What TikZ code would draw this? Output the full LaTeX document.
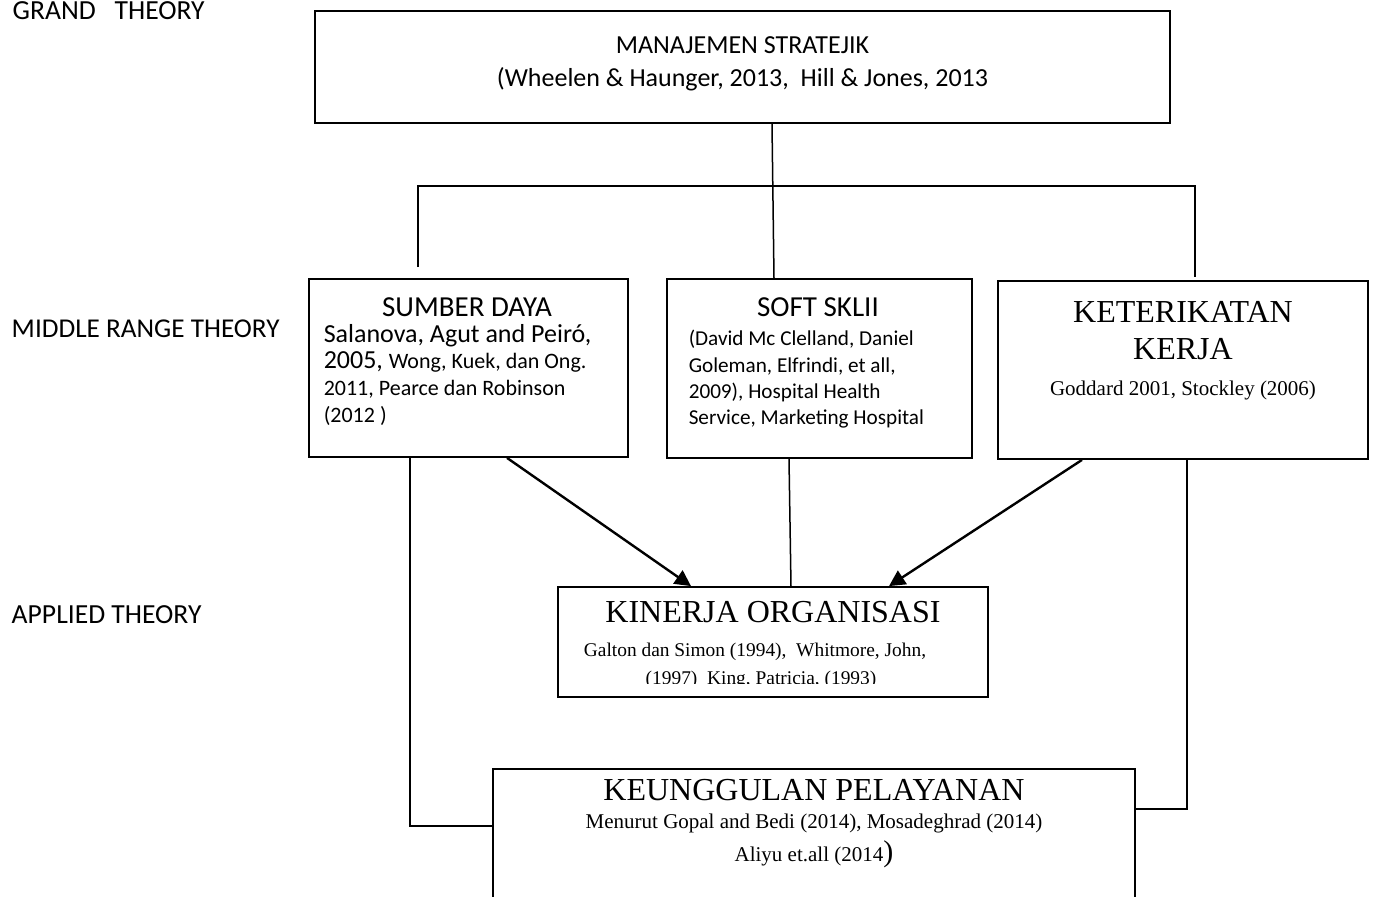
\documentclass[tikz,border=0pt]{standalone}
\usepackage{fontspec}
\setmainfont{Carlito}
\newfontfamily\timesfont{Liberation Serif}
\usetikzlibrary{positioning,arrows.meta}
\newcommand{\setfs}[1]{\fontsize{#1}{#1}\selectfont}

\begin{document}
\begin{tikzpicture}[x=0.5pt, y=-0.5pt, line width=0.75pt,
    box/.style={draw, line width=0.9pt, inner sep=0pt},
    txt/.style={inner sep=0pt, anchor=base},
    txtl/.style={inner sep=0pt, anchor=base west},
    arr/.style={line width=1.2pt, -{Triangle[length=8pt,width=8pt]}}]
  \clip (0,0) rectangle (1373,897);

  % theory levels
  \node[txtl] (grand) at (12,20) {\setfs{13.8}GRAND\ \ \ THEORY};
  \node[txtl] (middle) at (11,338) {\setfs{13.6}MIDDLE RANGE THEORY};
  \node[txtl] (applied) at (11,624) {\setfs{13.8}APPLIED THEORY};

  % boxes
  \node[box, minimum width=427.5pt, minimum height=56pt] (mj) at (742.5,67) {};
  \node[box, minimum width=159.5pt, minimum height=89pt] (sumber) at (468.5,368) {};
  \node[box, minimum width=152.5pt, minimum height=89.5pt] (soft) at (819.5,368.5) {};
  \node[box, minimum width=185pt, minimum height=89pt] (ket) at (1183,370) {};
  \node[box, minimum width=215pt, minimum height=55pt] (kin) at (773,642) {};
  \node[box, minimum width=321pt, minimum height=80pt] (keu) at (814,849) {};

  % grand theory
  \node[txt] (mj1) at (742.5,54) {\setfs{13}MANAJEMEN STRATEJIK};
  \node[txt] (mj2) at (742.5,87) {\setfs{13}(Wheelen \& Haunger, 2013,\ \ Hill \& Jones, 2013};

  % middle range
  \node[txt] (sd0) at (467,317) {\setfs{14.5}SUMBER DAYA};
  \node[txtl] (sd1) at (323,343) {\setfs{13}Salanova, Agut and Peiró,};
  \node[txtl] (sd2) at (323,369) {\setfs{13}2005, {\setfs{11}Wong, Kuek, dan Ong.}};
  \node[txtl] (sd3) at (323,396) {\setfs{11}2011, Pearce dan Robinson};
  \node[txtl] (sd4) at (323,423) {\setfs{11}(2012 )};

  \node[txt] (ss0) at (818,317) {\setfs{14.5}SOFT SKLII};
  \node[txtl] (ss1) at (688,346) {\setfs{10.6}(David Mc Clelland, Daniel};
  \node[txtl] (ss2) at (688,373) {\setfs{10.6}Goleman, Elfrindi, et all,};
  \node[txtl] (ss3) at (688,399) {\setfs{10.6}2009), Hospital Health};
  \node[txtl] (ss4) at (688,425) {\setfs{10.6}Service, Marketing Hospital};

  \node[txt] (kt0) at (1183,323) {\timesfont\setfs{16}KETERIKATAN};
  \node[txt] (kt1) at (1183,360) {\timesfont\setfs{16}KERJA};
  \node[txt] (kt2) at (1183,396) {\timesfont\setfs{10.5}Goddard 2001, Stockley (2006)};

  % applied
  \node[txt] (kn0) at (773,623) {\timesfont\setfs{16}KINERJA ORGANISASI};
  \node[txt] (kn1) at (755,657) {\timesfont\setfs{9.7}Galton dan Simon (1994),\ \ Whitmore, John,};
  \begin{scope}
    \clip (558,600) rectangle (988,684);
    \node[txt] (kn2) at (761,685) {\timesfont\setfs{9.7}(1997)\ \ King, Patricia, (1993)};
  \end{scope}

  \node[txt] (ku0) at (814,801) {\timesfont\setfs{16}KEUNGGULAN PELAYANAN};
  \node[txt] (ku1) at (814,829) {\timesfont\setfs{10.5}Menurut Gopal and Bedi (2014), Mosadeghrad (2014)};
  \node[txt] (ku2) at (814,862) {\timesfont\setfs{10.5}Aliyu et.all (2014{\setfs{15})}};

  % connectors
  \coordinate (bar) at (773,186);
  \draw ([xshift=14.75pt]mj.south) -- ([xshift=-22.75pt]soft.north);
  \draw ([xshift=-25.25pt,yshift=5.5pt]sumber.north) |- (bar) -| ([xshift=6pt,yshift=1.5pt]ket.north);
  \draw[arr] ([xshift=19.25pt]sumber.south) -- ([xshift=-41pt]kin.north);
  \draw[arr] ([xshift=-50.5pt]ket.south) -- ([xshift=58pt]kin.north);
  \draw ([xshift=-15.25pt]soft.south) -- ([xshift=9pt]kin.north);
  \draw ([xshift=-29.25pt]sumber.south) |- ([yshift=11.5pt]keu.west);
  \draw ([xshift=2pt]ket.south) |- ([yshift=20pt]keu.east);
\end{tikzpicture}
\end{document}
